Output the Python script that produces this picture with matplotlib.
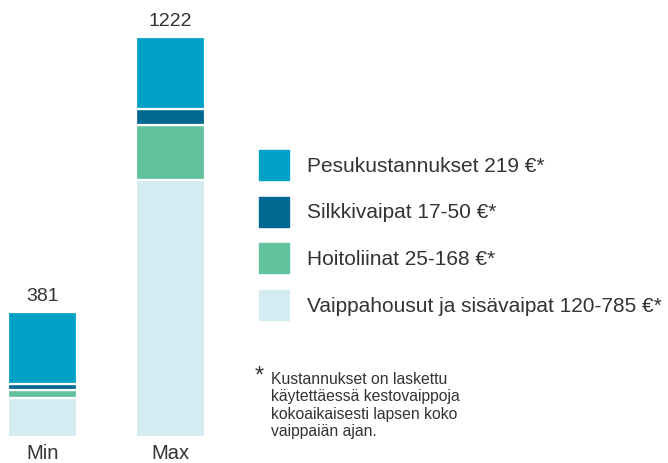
import matplotlib.pyplot as plt
from matplotlib.patches import Rectangle

plt.rcParams["font.family"] = ["Liberation Sans", "DejaVu Sans"]

W, H = 668, 463

bars = ["Min", "Max"]
series = [
    "Vaippahousut ja sisävaipat 120-785 €*",
    "Hoitoliinat 25-168 €*",
    "Silkkivaipat 17-50 €*",
    "Pesukustannukset 219 €*",
]
colors = ["#d4ecf2", "#62c29d", "#006891", "#00a1c6"]
values = [
    [120, 785],  # vaippahousut
    [25, 168],   # hoitoliinat
    [17, 50],    # silkkivaipat
    [219, 219],  # pesu
]
totals = [381, 1222]
note = ("Kustannukset on laskettu\nkäytettäessä kestovaippoja\n"
        "kokoaikaisesti lapsen koko\nvaippaiän ajan.")

TXT = "#333333"

fig = plt.figure(figsize=(W / 100, H / 100), dpi=100)
# axes placed so that value 0 sits at y=437px and 1222 at y=37px
ax = fig.add_axes([0, 26 / H, 1, 400 / H])
ax.set_xlim(-42.5 / 128, (W - 42.5) / 128)
ax.set_ylim(0, 1222)
ax.axis("off")

bottom = [0, 0]
for vals, c in zip(values, colors):
    ax.bar(range(len(bars)), vals, width=0.535, bottom=bottom, color=c,
           edgecolor="white", linewidth=1.6)
    bottom = [b + v for b, v in zip(bottom, vals)]

for i, (name, tot) in enumerate(zip(bars, totals)):
    ax.text(i, tot + 22, str(tot), ha="center", va="bottom", fontsize=14,
            color=TXT)
    ax.text(i, -22, name, ha="center", va="top", fontsize=14.5, color=TXT)

# legend, top to bottom
for k, idx in enumerate([3, 2, 1, 0]):
    y = 150 + k * 46.7
    fig.patches.append(Rectangle((259 / W, 1 - (y + 30) / H), 30 / W, 30 / H,
                                 transform=fig.transFigure,
                                 color=colors[idx], figure=fig))
    fig.text(307 / W, 1 - (y + 16) / H, series[idx], ha="left", va="center",
             fontsize=15, color=TXT)

fig.text(255 / W, 1 - 366 / H, "*", ha="left", va="top", fontsize=17,
         color=TXT)
fig.text(271 / W, 1 - 372 / H, note, ha="left", va="top", fontsize=11.3,
         color=TXT, linespacing=1.2)

fig.savefig("out.png", dpi=100)
